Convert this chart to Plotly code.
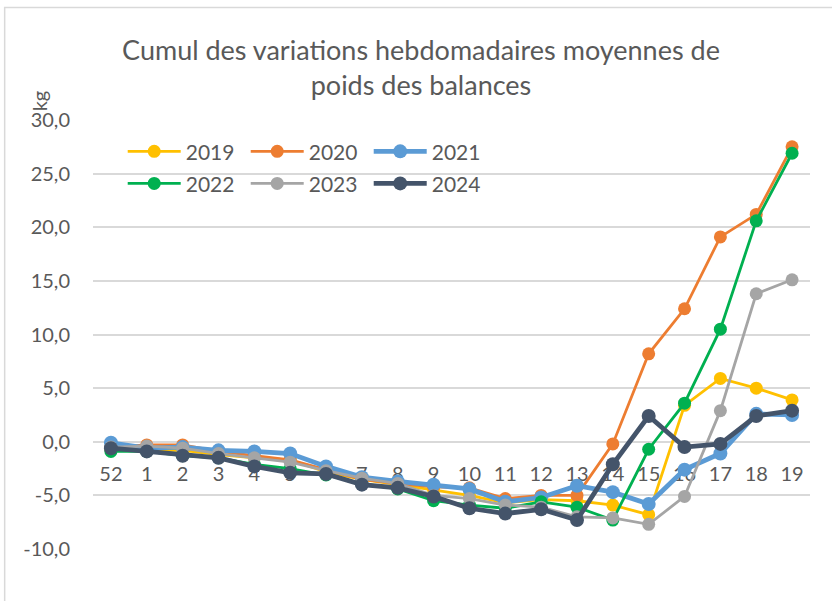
import plotly.graph_objects as go

weeks = ["52", "1", "2", "3", "4", "5", "6", "7", "8", "9", "10",
         "11", "12", "13", "14", "15", "16", "17", "18", "19"]

y2019 = [-0.7, -0.8, -0.8, -1.2, -1.5, -1.7, -2.8, -3.5, -4.0, -4.5,
         -5.0, -5.7, -5.4, -5.5, -5.9, -6.8, 3.4, 5.9, 5.0, 3.9]
y2020 = [-0.5, -0.3, -0.3, -0.9, -1.3, -1.7, -2.6, -3.5, -3.9, -4.2,
         -4.3, -5.3, -5.0, -5.0, -0.2, 8.2, 12.4, 19.1, 21.2, 27.5]
y2021 = [-0.1, -0.6, -0.5, -0.8, -0.9, -1.1, -2.3, -3.3, -3.7, -4.0,
         -4.4, -5.6, -5.2, -4.1, -4.7, -5.8, -2.6, -1.1, 2.6, 2.5]
y2022 = [-0.9, -0.9, -1.3, -1.5, -2.1, -2.5, -3.1, -3.9, -4.4, -5.5,
         -5.9, -6.2, -5.6, -6.1, -7.3, -0.7, 3.6, 10.5, 20.6, 26.9]
y2023 = [-0.5, -0.4, -0.6, -1.1, -1.5, -1.9, -2.7, -3.4, -3.9, -5.0,
         -5.3, -5.9, -6.1, -7.0, -7.1, -7.7, -5.1, 2.9, 13.8, 15.1]
y2024 = [-0.6, -0.9, -1.3, -1.5, -2.3, -2.9, -3.0, -4.0, -4.3, -5.1,
         -6.2, -6.7, -6.3, -7.3, -2.1, 2.4, -0.5, -0.2, 2.4, 2.9]

ytick_vals = [-10, -5, 0, 5, 10, 15, 20, 25, 30]
ytick_text = ["-10,0", "-5,0", "0,0", "5,0", "10,0", "15,0", "20,0", "25,0", "30,0"]

series = [
    ("2019", y2019, "#FFC000", 2.8, 13, "legend"),
    ("2020", y2020, "#ED7D31", 2.8, 13, "legend"),
    ("2021", y2021, "#5B9BD5", 4.8, 14, "legend"),
    ("2022", y2022, "#00B050", 2.8, 13, "legend2"),
    ("2023", y2023, "#A5A5A5", 2.8, 13, "legend2"),
    ("2024", y2024, "#44546A", 4.8, 14, "legend2"),
]

FONT = "Lato"
TXT = "#595959"

fig = go.Figure()
for name, vals, col, lw, ms, lg in series:
    fig.add_trace(go.Scatter(
        x=weeks, y=vals, name=name, mode="lines+markers",
        line=dict(color=col, width=lw),
        marker=dict(color=col, size=ms),
        legend=lg,
    ))

W, H = 832, 601
# plot area in page pixels (body margin removed in post_script)
L, R, T, B = 93.3, 810.0, 120.3, 549.0

def px_x(p):
    return (p - L) / (R - L)

def px_y(p):
    return (B - p) / (B - T)

legend_common = dict(
    orientation="h", x=px_x(123), xanchor="left", yanchor="middle",
    itemwidth=53, entrywidth=55, entrywidthmode="pixels",
    bgcolor="rgba(0,0,0,0)", font=dict(size=21, color=TXT),
    itemclick=False,
)

fig.update_layout(
    width=W, height=H,
    margin=dict(l=L, r=W - R, t=T, b=H - B, pad=0, autoexpand=False),
    paper_bgcolor="white", plot_bgcolor="white",
    font=dict(family=FONT, color=TXT, size=20),
    title=dict(
        text="Cumul des variations hebdomadaires moyennes de<br>poids des balances",
        x=421 / W, xanchor="center", xref="container",
        y=1 - 60 / H, yanchor="middle", yref="container",
        font=dict(family=FONT, size=27, color=TXT),
    ),
    xaxis=dict(
        type="category", anchor="free", position=0.25,
        showgrid=False, showline=False, ticks="", zeroline=False,
        tickfont=dict(size=20, color=TXT), ticklabelstandoff=18,
        layer="below traces", range=[-0.5, 19.5], automargin=False,
    ),
    yaxis=dict(
        range=[-10, 30], tickvals=ytick_vals, ticktext=ytick_text,
        showgrid=True, gridcolor="#D9D9D9", gridwidth=1.5,
        zeroline=False, showline=False, ticks="",
        tickfont=dict(size=20, color=TXT), ticklabelstandoff=22,
        automargin=False,
    ),
    legend=dict(legend_common, y=px_y(152)),
    legend2=dict(legend_common, y=px_y(184)),
    showlegend=True,
)

fig.add_annotation(
    text="kg", xref="paper", yref="paper",
    x=px_x(39), y=px_y(101), xanchor="center", yanchor="middle",
    textangle=-90, showarrow=False,
    font=dict(size=20, color=TXT, family=FONT),
)

fig.add_shape(
    type="rect", xref="paper", yref="paper",
    x0=px_x(5), x1=px_x(845), y0=px_y(615), y1=px_y(8),
    line=dict(color="#D9D9D9", width=1.5), fillcolor="rgba(0,0,0,0)",
    layer="below",
)

fig.write_html("out.html", config={"displayModeBar": False},
               post_script="document.body.style.margin='0';")
